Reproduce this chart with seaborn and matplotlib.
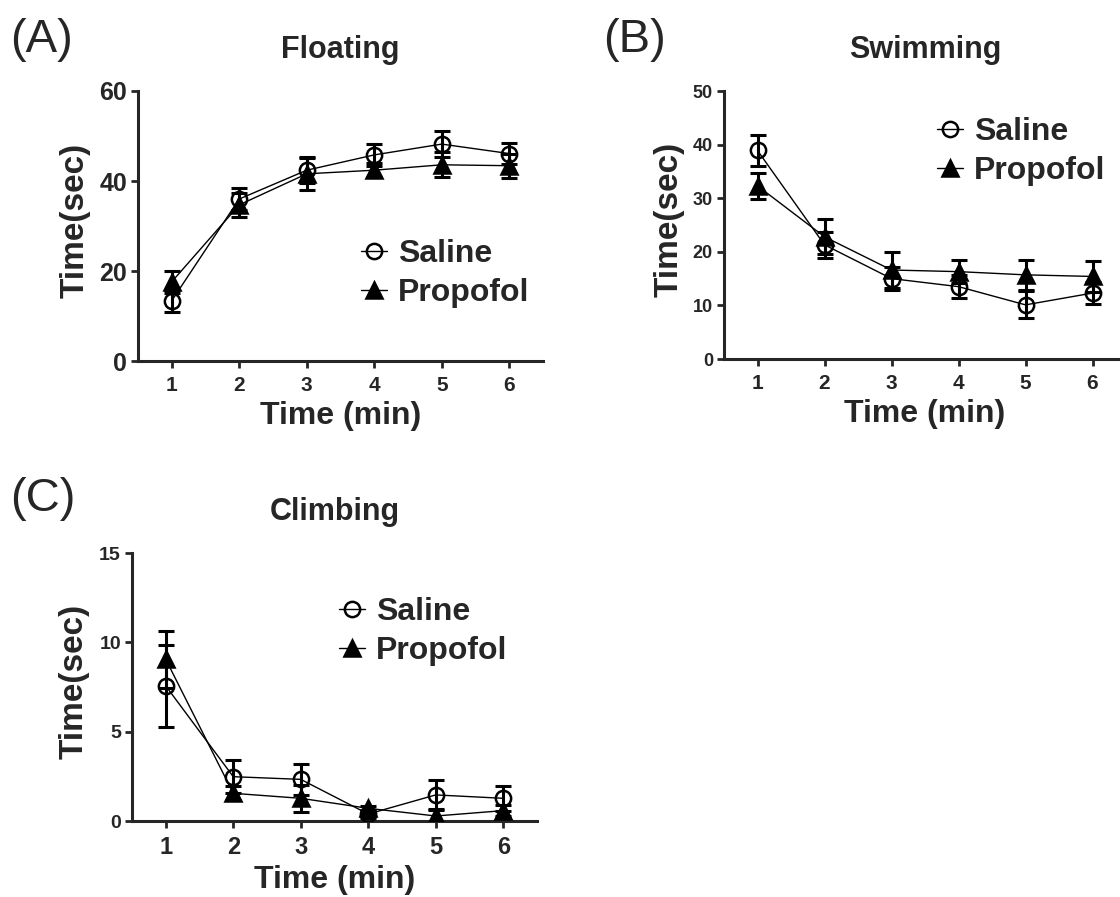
import numpy as np
import pandas as pd
import matplotlib
matplotlib.use("Agg")
import matplotlib.pyplot as plt
import seaborn as sns

MINUTES = [1, 2, 3, 4, 5, 6]
GROUPS = ["Saline", "Propofol"]

FLOAT_SALINE = [13.4, 36.0, 42.4, 45.8, 48.2, 46.1]
FLOAT_SALINE_SEM = [2.4, 2.4, 2.9, 2.4, 2.9, 2.3]
FLOAT_PROPOFOL = [17.6, 34.7, 41.6, 42.4, 43.6, 43.4]
FLOAT_PROPOFOL_SEM = [2.5, 2.6, 3.6, 1.5, 2.8, 2.7]

SWIM_SALINE = [38.9, 21.3, 15.0, 13.5, 10.1, 12.3]
SWIM_SALINE_SEM = [2.9, 2.4, 2.1, 2.2, 2.5, 2.0]
SWIM_PROPOFOL = [32.3, 22.8, 16.6, 16.3, 15.7, 15.4]
SWIM_PROPOFOL_SEM = [2.4, 3.3, 3.3, 2.2, 2.8, 2.9]

CLIMB_SALINE = [7.56, 2.48, 2.33, 0.39, 1.46, 1.27]
CLIMB_SALINE_SEM = [2.3, 0.93, 0.86, 0.2, 0.83, 0.7]
CLIMB_PROPOFOL = [9.05, 1.55, 1.27, 0.71, 0.28, 0.58]
CLIMB_PROPOFOL_SEM = [1.6, 0.4, 0.75, 0.15, 0.37, 0.3]

TITLES = ["Floating", "Swimming", "Climbing"]
PANEL_LETTERS = ["(A)", "(B)", "(C)"]
YLIMS = [(0, 60), (0, 50), (0, 15)]
YTICKS = [[0, 20, 40, 60], [0, 10, 20, 30, 40, 50], [0, 5, 10, 15]]

sns.set_theme(style="ticks")
plt.rcParams["font.family"] = ["Liberation Sans", "DejaVu Sans"]
plt.rcParams["font.weight"] = "bold"


def make_frame(saline, saline_sem, propofol, propofol_sem):
    rows = []
    for grp, vals, sems in [("Saline", saline, saline_sem), ("Propofol", propofol, propofol_sem)]:
        for m, v, s in zip(MINUTES, vals, sems):
            rows.append({"minute": m, "time": v, "sem": s, "group": grp})
    return pd.DataFrame(rows)


frames = [
    make_frame(FLOAT_SALINE, FLOAT_SALINE_SEM, FLOAT_PROPOFOL, FLOAT_PROPOFOL_SEM),
    make_frame(SWIM_SALINE, SWIM_SALINE_SEM, SWIM_PROPOFOL, SWIM_PROPOFOL_SEM),
    make_frame(CLIMB_SALINE, CLIMB_SALINE_SEM, CLIMB_PROPOFOL, CLIMB_PROPOFOL_SEM),
]

W, H = 1120, 897
fig = plt.figure(figsize=(W / 100, H / 100), dpi=100)

# axes boxes in pixels: left, top, right, bottom
boxes = [(138, 91, 543, 361), (724, 91, 1126, 359), (132, 553, 537, 821)]
ytick_sizes = [18, 13, 14]
xtick_sizes = [15, 15, 17]
legend_pos = [(361, 239), (937, 117), (339, 597)]
ylabel_xy = [(-0.118, 0.52), (-0.097, 0.52), (-0.104, 0.52)]
letter_pos = [(10, 40), (603, 40), (10, 499)]

markers = {"Saline": dict(marker="o", markerfacecolor="none"),
           "Propofol": dict(marker="^", markerfacecolor="black")}

for i, df in enumerate(frames):
    l, t, r, b = boxes[i]
    ax = fig.add_axes([l / W, 1 - b / H, (r - l) / W, (b - t) / H])
    for grp in GROUPS:
        sub = df[df["group"] == grp]
        ax.errorbar(sub["minute"], sub["time"], yerr=sub["sem"], fmt="none",
                    ecolor="black", elinewidth=2.2, capsize=6, capthick=2.2, zorder=2)
        sns.lineplot(data=sub, x="minute", y="time", ax=ax, color="black",
                     linewidth=1.0, markersize=11, markeredgecolor="black",
                     markeredgewidth=1.8, label=grp, zorder=3, **markers[grp])

    ax.set_xlim(0.5, 6.5)
    ax.set_ylim(*YLIMS[i])
    ax.set_xticks(MINUTES)
    ax.set_yticks(YTICKS[i])
    ax.tick_params(axis="y", labelsize=ytick_sizes[i], width=2, length=5, pad=3)
    ax.tick_params(axis="x", labelsize=xtick_sizes[i], width=2, length=5, pad=6)
    for lab in ax.get_xticklabels() + ax.get_yticklabels():
        lab.set_fontweight("bold")
    sns.despine(ax=ax)
    ax.spines["left"].set_linewidth(2.2)
    ax.spines["bottom"].set_linewidth(2.2)
    ax.spines["left"].set_bounds(*YLIMS[i])

    ax.set_xlabel("Time (min)", fontsize=23, fontweight="bold", labelpad=4)
    ax.set_ylabel("Time(sec)", fontsize=24, fontweight="bold")
    ax.yaxis.set_label_coords(*ylabel_xy[i])
    ax.set_title(TITLES[i], fontsize=22, fontweight="bold", pad=24)

    lx, ly = legend_pos[i]
    leg = ax.legend(loc="upper left", frameon=False, fontsize=23, handlelength=0.8,
                    handletextpad=0.35, labelspacing=0.28, borderpad=0, borderaxespad=0,
                    bbox_to_anchor=((lx - l) / (r - l), (b - ly) / (b - t)))
    for txt in leg.get_texts():
        txt.set_fontweight("bold")

    fx, fy = letter_pos[i]
    fig.text(fx / W, 1 - fy / H, PANEL_LETTERS[i], fontsize=34, fontweight="normal",
             ha="left", va="center")

fig.savefig("out.png", dpi=100)
